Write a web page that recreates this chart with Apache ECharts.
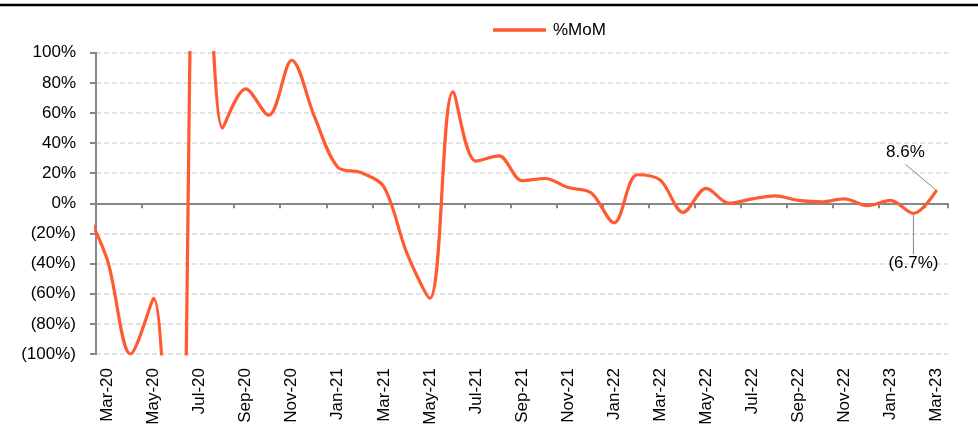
<!DOCTYPE html>
<html>
<head>
<meta charset="utf-8">
<script src="https://cdn.jsdelivr.net/npm/echarts@6/dist/echarts.min.js"></script>
<style>
  html, body { margin: 0; padding: 0; background: #fff; }
  #chart { width: 978px; height: 444px; }
</style>
</head>
<body>
<div id="chart"></div>
<script>
// Monthly categories; Feb-20 sits just left of the visible range so the
// first segment enters the plot from the edge.
const months = [
  'Feb-20', 'Mar-20', 'Apr-20', 'May-20', 'Jun-20', 'Jul-20', 'Aug-20', 'Sep-20', 'Oct-20', 'Nov-20', 'Dec-20',
  'Jan-21', 'Feb-21', 'Mar-21', 'Apr-21', 'May-21', 'Jun-21', 'Jul-21', 'Aug-21', 'Sep-21', 'Oct-21', 'Nov-21', 'Dec-21',
  'Jan-22', 'Feb-22', 'Mar-22', 'Apr-22', 'May-22', 'Jun-22', 'Jul-22', 'Aug-22', 'Sep-22', 'Oct-22', 'Nov-22', 'Dec-22',
  'Jan-23', 'Feb-23', 'Mar-23'
];

// Month-on-month change, %
const momPct = [
  -3, -38, -100, -63, -350, 360, 50, 76, 58.5, 95, 57,
  24, 20.5, 11, -33, -63, 74, 28, 31.5, 15, 16.5, 10.5, 7,
  -13, 19, 15.5, -6, 10, 0, 3, 5, 2, 1, 3, -1.5,
  2, -6.7, 8.6
];

// Points that carry a value callout
const calloutMonths = ['Feb-23', 'Mar-23'];

const yTicks = { min: -100, max: 100, step: 20 };

const LINE_COLOR = '#FF5A32';
const AXIS_GREY = '#878787';
const FONT = "'Liberation Sans', Arial, sans-serif";

function pctLabel(v) {
  const a = Math.abs(v);
  const s = (Math.round(a * 10) / 10).toString();
  return v < 0 ? '(' + s + '%)' : s + '%';
}

const seriesData = momPct.map(function (v, i) {
  if (calloutMonths.indexOf(months[i]) < 0) return v;
  const below = v < 0;
  return {
    value: v,
    symbol: 'circle',
    symbolSize: 2,
    itemStyle: { color: LINE_COLOR },
    label: below
      ? { show: true, position: 'bottom' }
      // wide transparent box so the leader leaves from under the text
      : {
          show: true,
          position: 'top',
          backgroundColor: 'rgba(255,255,255,0)',
          padding: [0, 60, 4, 60]
        }
  };
});

const chart = echarts.init(document.getElementById('chart'), null, { renderer: 'canvas' });

chart.setOption({
  animation: false,
  backgroundColor: '#fff',
  textStyle: { fontFamily: FONT },
  graphic: [{
    type: 'rect',
    left: 0,
    top: 3.7,
    shape: { width: 978, height: 2.6 },
    style: { fill: '#000' },
    silent: true
  }],
  legend: {
    left: 488,
    top: 16.5,
    icon: 'rect',
    itemWidth: 53,
    itemHeight: 3.5,
    itemGap: 10,
    textStyle: { fontSize: 17, color: '#000', fontFamily: FONT, padding: [0, 0, 0, 2] },
    data: [{ name: '%MoM', icon: 'rect', itemStyle: { color: LINE_COLOR } }]
  },
  grid: { left: 96, top: 52.7, width: 852, height: 301.3 },
  xAxis: [
    {
      // labels along the bottom edge
      type: 'category',
      data: months,
      min: 1,
      boundaryGap: true,
      position: 'bottom',
      axisLine: { show: false, onZero: false },
      axisTick: { show: false },
      splitLine: { show: false },
      axisLabel: {
        interval: function (idx) { return idx % 2 === 1; },
        rotate: 90,
        margin: 14,
        fontSize: 17,
        color: '#000',
        fontFamily: FONT
      }
    },
    {
      // zero line with its tick marks
      type: 'category',
      data: months,
      min: 1,
      boundaryGap: true,
      position: 'bottom',
      axisLine: { show: true, onZero: true, lineStyle: { color: AXIS_GREY, width: 2 } },
      axisTick: {
        show: true,
        length: 5,
        interval: function (idx) { return idx % 2 === 1; },
        lineStyle: { color: AXIS_GREY, width: 2 }
      },
      axisLabel: { show: false },
      splitLine: { show: false }
    }
  ],
  yAxis: {
    type: 'value',
    min: yTicks.min,
    max: yTicks.max,
    interval: yTicks.step,
    axisLine: { show: true, lineStyle: { color: AXIS_GREY, width: 2 } },
    axisTick: { show: true, length: 6, lineStyle: { color: AXIS_GREY, width: 2 } },
    splitLine: {
      show: true,
      lineStyle: { color: '#D9D9D9', width: 1.5, type: [5, 3] }
    },
    axisLabel: {
      margin: 20,
      fontSize: 17,
      color: '#000',
      fontFamily: FONT,
      formatter: pctLabel
    }
  },
  series: [{
    name: '%MoM',
    type: 'line',
    xAxisIndex: 1,
    data: seriesData,
    smooth: 0.33,
    symbol: 'none',
    showAllSymbol: true,
    clip: true,
    color: LINE_COLOR,
    lineStyle: { color: LINE_COLOR, width: 3.2 },
    label: {
      show: false,
      fontSize: 17,
      color: '#000',
      fontFamily: FONT,
      formatter: function (p) { return pctLabel(p.value); }
    },
    labelLine: { show: true, lineStyle: { color: AXIS_GREY, width: 1 } },
    labelLayout: function (params) {
      const m = months[params.dataIndex];
      if (m === 'Mar-23') return { dx: -31, dy: -20 };
      if (m === 'Feb-23') return { dx: 0, dy: 35 };
      return {};
    },
    emphasis: { disabled: true }
  }]
});
</script>
</body>
</html>
